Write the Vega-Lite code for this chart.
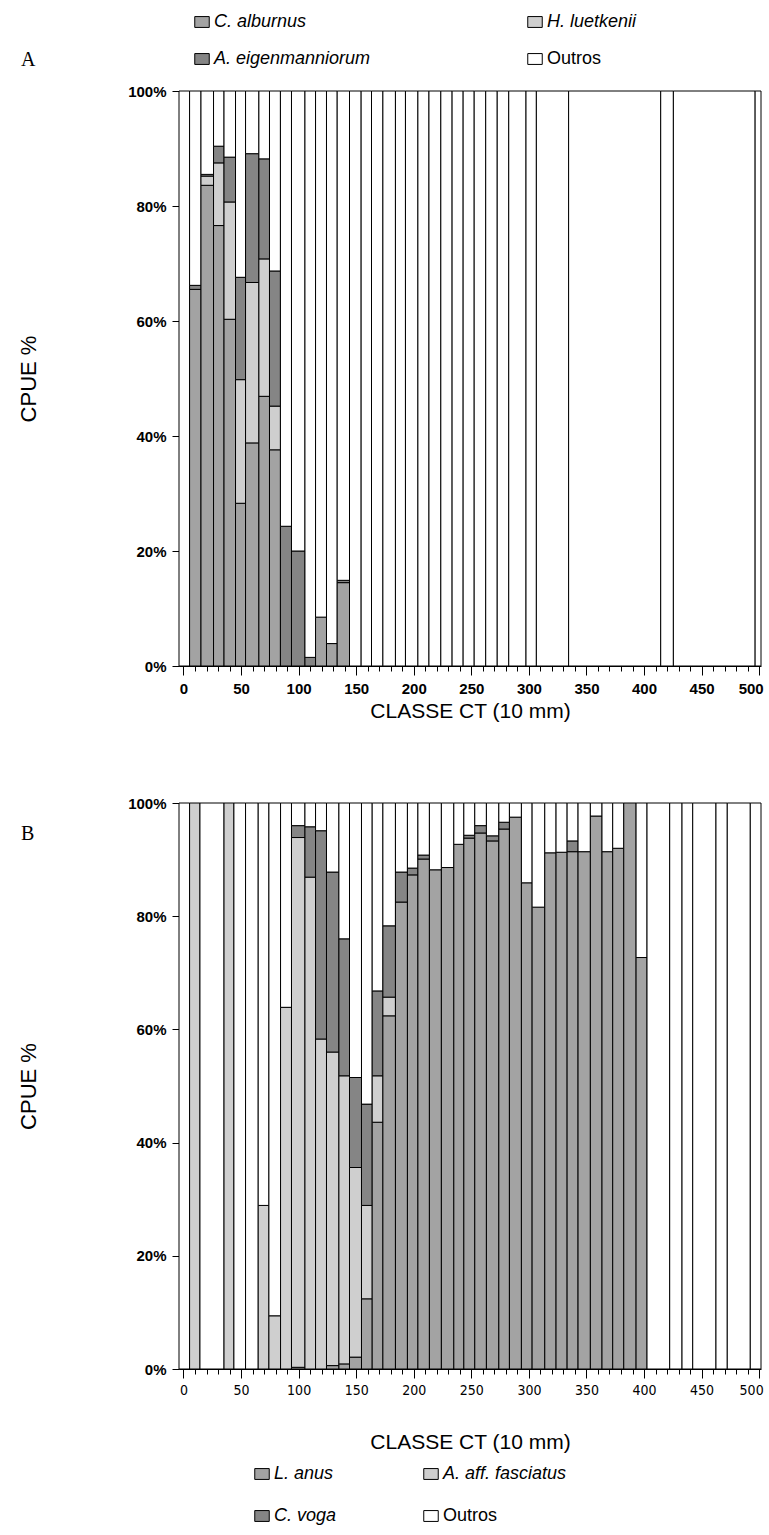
{
  "$schema": "https://vega.github.io/schema/vega-lite/v6.json",
  "padding": {"left": 17, "top": 13, "right": 0, "bottom": 0},
  "background": "white",
  "config": {
    "view": {"stroke": null},
    "axis": {"domainColor": "black", "tickColor": "black", "labelColor": "black", "titleColor": "black", "grid": false, "labelFont": "Liberation Sans", "titleFont": "Liberation Sans", "titleFontWeight": "normal"}
  },
  "datasets": {
    "A": [
      {"x0": -3.9, "x1": 5.3, "sp": "Outros", "ord": 4, "v": 100},
      {"x0": 5.3, "x1": 15.2, "sp": "C. alburnus", "ord": 1, "v": 65.5},
      {"x0": 5.3, "x1": 15.2, "sp": "A. eigenmanniorum", "ord": 3, "v": 0.7},
      {"x0": 5.3, "x1": 15.2, "sp": "Outros", "ord": 4, "v": 33.8},
      {"x0": 15.2, "x1": 26.1, "sp": "C. alburnus", "ord": 1, "v": 83.6},
      {"x0": 15.2, "x1": 26.1, "sp": "H. luetkenii", "ord": 2, "v": 1.6},
      {"x0": 15.2, "x1": 26.1, "sp": "A. eigenmanniorum", "ord": 3, "v": 0.3},
      {"x0": 15.2, "x1": 26.1, "sp": "Outros", "ord": 4, "v": 14.5},
      {"x0": 26.1, "x1": 35.2, "sp": "C. alburnus", "ord": 1, "v": 76.6},
      {"x0": 26.1, "x1": 35.2, "sp": "H. luetkenii", "ord": 2, "v": 10.9},
      {"x0": 26.1, "x1": 35.2, "sp": "A. eigenmanniorum", "ord": 3, "v": 2.9},
      {"x0": 26.1, "x1": 35.2, "sp": "Outros", "ord": 4, "v": 9.6},
      {"x0": 35.2, "x1": 45.2, "sp": "C. alburnus", "ord": 1, "v": 60.3},
      {"x0": 35.2, "x1": 45.2, "sp": "H. luetkenii", "ord": 2, "v": 20.4},
      {"x0": 35.2, "x1": 45.2, "sp": "A. eigenmanniorum", "ord": 3, "v": 7.8},
      {"x0": 35.2, "x1": 45.2, "sp": "Outros", "ord": 4, "v": 11.5},
      {"x0": 45.2, "x1": 53.9, "sp": "C. alburnus", "ord": 1, "v": 28.3},
      {"x0": 45.2, "x1": 53.9, "sp": "H. luetkenii", "ord": 2, "v": 21.5},
      {"x0": 45.2, "x1": 53.9, "sp": "A. eigenmanniorum", "ord": 3, "v": 17.8},
      {"x0": 45.2, "x1": 53.9, "sp": "Outros", "ord": 4, "v": 32.4},
      {"x0": 53.9, "x1": 65.5, "sp": "C. alburnus", "ord": 1, "v": 38.8},
      {"x0": 53.9, "x1": 65.5, "sp": "H. luetkenii", "ord": 2, "v": 27.9},
      {"x0": 53.9, "x1": 65.5, "sp": "A. eigenmanniorum", "ord": 3, "v": 22.4},
      {"x0": 53.9, "x1": 65.5, "sp": "Outros", "ord": 4, "v": 10.9},
      {"x0": 65.5, "x1": 74.7, "sp": "C. alburnus", "ord": 1, "v": 46.9},
      {"x0": 65.5, "x1": 74.7, "sp": "H. luetkenii", "ord": 2, "v": 23.9},
      {"x0": 65.5, "x1": 74.7, "sp": "A. eigenmanniorum", "ord": 3, "v": 17.4},
      {"x0": 65.5, "x1": 74.7, "sp": "Outros", "ord": 4, "v": 11.8},
      {"x0": 74.7, "x1": 84.2, "sp": "C. alburnus", "ord": 1, "v": 37.6},
      {"x0": 74.7, "x1": 84.2, "sp": "H. luetkenii", "ord": 2, "v": 7.6},
      {"x0": 74.7, "x1": 84.2, "sp": "A. eigenmanniorum", "ord": 3, "v": 23.5},
      {"x0": 74.7, "x1": 84.2, "sp": "Outros", "ord": 4, "v": 31.3},
      {"x0": 84.2, "x1": 93.8, "sp": "A. eigenmanniorum", "ord": 3, "v": 24.3},
      {"x0": 84.2, "x1": 93.8, "sp": "Outros", "ord": 4, "v": 75.7},
      {"x0": 93.8, "x1": 105.5, "sp": "A. eigenmanniorum", "ord": 3, "v": 20.0},
      {"x0": 93.8, "x1": 105.5, "sp": "Outros", "ord": 4, "v": 80.0},
      {"x0": 105.5, "x1": 114.7, "sp": "A. eigenmanniorum", "ord": 3, "v": 1.5},
      {"x0": 105.5, "x1": 114.7, "sp": "Outros", "ord": 4, "v": 98.5},
      {"x0": 114.7, "x1": 124.2, "sp": "C. alburnus", "ord": 1, "v": 8.5},
      {"x0": 114.7, "x1": 124.2, "sp": "Outros", "ord": 4, "v": 91.5},
      {"x0": 124.2, "x1": 133.5, "sp": "C. alburnus", "ord": 1, "v": 3.9},
      {"x0": 124.2, "x1": 133.5, "sp": "Outros", "ord": 4, "v": 96.1},
      {"x0": 133.5, "x1": 144.2, "sp": "C. alburnus", "ord": 1, "v": 14.5},
      {"x0": 133.5, "x1": 144.2, "sp": "A. eigenmanniorum", "ord": 3, "v": 0.4},
      {"x0": 133.5, "x1": 144.2, "sp": "Outros", "ord": 4, "v": 85.1},
      {"x0": 144.2, "x1": 154.3, "sp": "Outros", "ord": 4, "v": 100},
      {"x0": 154.3, "x1": 163.3, "sp": "Outros", "ord": 4, "v": 100},
      {"x0": 163.3, "x1": 173.2, "sp": "Outros", "ord": 4, "v": 100},
      {"x0": 173.2, "x1": 184.1, "sp": "Outros", "ord": 4, "v": 100},
      {"x0": 184.1, "x1": 192.8, "sp": "Outros", "ord": 4, "v": 100},
      {"x0": 192.8, "x1": 203.6, "sp": "Outros", "ord": 4, "v": 100},
      {"x0": 203.6, "x1": 213.2, "sp": "Outros", "ord": 4, "v": 100},
      {"x0": 213.2, "x1": 223.5, "sp": "Outros", "ord": 4, "v": 100},
      {"x0": 223.5, "x1": 233.3, "sp": "Outros", "ord": 4, "v": 100},
      {"x0": 233.3, "x1": 242.9, "sp": "Outros", "ord": 4, "v": 100},
      {"x0": 242.9, "x1": 252.5, "sp": "Outros", "ord": 4, "v": 100},
      {"x0": 252.5, "x1": 262.5, "sp": "Outros", "ord": 4, "v": 100},
      {"x0": 262.5, "x1": 272.5, "sp": "Outros", "ord": 4, "v": 100},
      {"x0": 272.5, "x1": 282.5, "sp": "Outros", "ord": 4, "v": 100},
      {"x0": 282.5, "x1": 297.5, "sp": "Outros", "ord": 4, "v": 100},
      {"x0": 297.5, "x1": 306.5, "sp": "Outros", "ord": 4, "v": 100},
      {"x0": 306.5, "x1": 334.5, "sp": "Outros", "ord": 4, "v": 100},
      {"x0": 334.5, "x1": 414.5, "sp": "Outros", "ord": 4, "v": 100},
      {"x0": 414.5, "x1": 425.5, "sp": "Outros", "ord": 4, "v": 100},
      {"x0": 425.5, "x1": 496.5, "sp": "Outros", "ord": 4, "v": 100},
      {"x0": 496.5, "x1": 501.6, "sp": "Outros", "ord": 4, "v": 100}
    ],
    "B": [
      {"x0": -3.9, "x1": 5.3, "sp": "Outros", "ord": 4, "v": 100},
      {"x0": 5.3, "x1": 14.3, "sp": "A. aff. fasciatus", "ord": 2, "v": 100},
      {"x0": 14.3, "x1": 35.2, "sp": "Outros", "ord": 4, "v": 100},
      {"x0": 35.2, "x1": 43.8, "sp": "A. aff. fasciatus", "ord": 2, "v": 100},
      {"x0": 43.8, "x1": 53.9, "sp": "Outros", "ord": 4, "v": 100},
      {"x0": 53.9, "x1": 64.9, "sp": "Outros", "ord": 4, "v": 100},
      {"x0": 64.9, "x1": 74.2, "sp": "A. aff. fasciatus", "ord": 2, "v": 28.9},
      {"x0": 64.9, "x1": 74.2, "sp": "Outros", "ord": 4, "v": 71.1},
      {"x0": 74.2, "x1": 84.3, "sp": "A. aff. fasciatus", "ord": 2, "v": 9.4},
      {"x0": 74.2, "x1": 84.3, "sp": "Outros", "ord": 4, "v": 90.6},
      {"x0": 84.3, "x1": 93.8, "sp": "A. aff. fasciatus", "ord": 2, "v": 63.9},
      {"x0": 84.3, "x1": 93.8, "sp": "Outros", "ord": 4, "v": 36.1},
      {"x0": 93.8, "x1": 105.5, "sp": "L. anus", "ord": 1, "v": 0.3},
      {"x0": 93.8, "x1": 105.5, "sp": "A. aff. fasciatus", "ord": 2, "v": 93.6},
      {"x0": 93.8, "x1": 105.5, "sp": "C. voga", "ord": 3, "v": 2.1},
      {"x0": 93.8, "x1": 105.5, "sp": "Outros", "ord": 4, "v": 4.0},
      {"x0": 105.5, "x1": 114.7, "sp": "A. aff. fasciatus", "ord": 2, "v": 86.9},
      {"x0": 105.5, "x1": 114.7, "sp": "C. voga", "ord": 3, "v": 8.9},
      {"x0": 105.5, "x1": 114.7, "sp": "Outros", "ord": 4, "v": 4.2},
      {"x0": 114.7, "x1": 124.2, "sp": "A. aff. fasciatus", "ord": 2, "v": 58.3},
      {"x0": 114.7, "x1": 124.2, "sp": "C. voga", "ord": 3, "v": 36.8},
      {"x0": 114.7, "x1": 124.2, "sp": "Outros", "ord": 4, "v": 4.9},
      {"x0": 124.2, "x1": 135.0, "sp": "L. anus", "ord": 1, "v": 0.6},
      {"x0": 124.2, "x1": 135.0, "sp": "A. aff. fasciatus", "ord": 2, "v": 55.4},
      {"x0": 124.2, "x1": 135.0, "sp": "C. voga", "ord": 3, "v": 31.8},
      {"x0": 124.2, "x1": 135.0, "sp": "Outros", "ord": 4, "v": 12.2},
      {"x0": 135.0, "x1": 144.2, "sp": "L. anus", "ord": 1, "v": 0.9},
      {"x0": 135.0, "x1": 144.2, "sp": "A. aff. fasciatus", "ord": 2, "v": 50.9},
      {"x0": 135.0, "x1": 144.2, "sp": "C. voga", "ord": 3, "v": 24.2},
      {"x0": 135.0, "x1": 144.2, "sp": "Outros", "ord": 4, "v": 24.0},
      {"x0": 144.2, "x1": 154.6, "sp": "L. anus", "ord": 1, "v": 2.1},
      {"x0": 144.2, "x1": 154.6, "sp": "A. aff. fasciatus", "ord": 2, "v": 33.5},
      {"x0": 144.2, "x1": 154.6, "sp": "C. voga", "ord": 3, "v": 15.9},
      {"x0": 144.2, "x1": 154.6, "sp": "Outros", "ord": 4, "v": 48.5},
      {"x0": 154.6, "x1": 163.9, "sp": "L. anus", "ord": 1, "v": 12.4},
      {"x0": 154.6, "x1": 163.9, "sp": "A. aff. fasciatus", "ord": 2, "v": 16.5},
      {"x0": 154.6, "x1": 163.9, "sp": "C. voga", "ord": 3, "v": 17.9},
      {"x0": 154.6, "x1": 163.9, "sp": "Outros", "ord": 4, "v": 53.2},
      {"x0": 163.9, "x1": 173.2, "sp": "L. anus", "ord": 1, "v": 43.6},
      {"x0": 163.9, "x1": 173.2, "sp": "A. aff. fasciatus", "ord": 2, "v": 8.2},
      {"x0": 163.9, "x1": 173.2, "sp": "C. voga", "ord": 3, "v": 15.0},
      {"x0": 163.9, "x1": 173.2, "sp": "Outros", "ord": 4, "v": 33.2},
      {"x0": 173.2, "x1": 184.1, "sp": "L. anus", "ord": 1, "v": 62.4},
      {"x0": 173.2, "x1": 184.1, "sp": "A. aff. fasciatus", "ord": 2, "v": 3.3},
      {"x0": 173.2, "x1": 184.1, "sp": "C. voga", "ord": 3, "v": 12.6},
      {"x0": 173.2, "x1": 184.1, "sp": "Outros", "ord": 4, "v": 21.7},
      {"x0": 184.1, "x1": 194.5, "sp": "L. anus", "ord": 1, "v": 82.5},
      {"x0": 184.1, "x1": 194.5, "sp": "C. voga", "ord": 3, "v": 5.3},
      {"x0": 184.1, "x1": 194.5, "sp": "Outros", "ord": 4, "v": 12.2},
      {"x0": 194.5, "x1": 203.6, "sp": "L. anus", "ord": 1, "v": 87.3},
      {"x0": 194.5, "x1": 203.6, "sp": "C. voga", "ord": 3, "v": 1.2},
      {"x0": 194.5, "x1": 203.6, "sp": "Outros", "ord": 4, "v": 11.5},
      {"x0": 203.6, "x1": 213.6, "sp": "L. anus", "ord": 1, "v": 90.1},
      {"x0": 203.6, "x1": 213.6, "sp": "C. voga", "ord": 3, "v": 0.7},
      {"x0": 203.6, "x1": 213.6, "sp": "Outros", "ord": 4, "v": 9.2},
      {"x0": 213.6, "x1": 224.0, "sp": "L. anus", "ord": 1, "v": 88.2},
      {"x0": 213.6, "x1": 224.0, "sp": "Outros", "ord": 4, "v": 11.8},
      {"x0": 224.0, "x1": 234.8, "sp": "L. anus", "ord": 1, "v": 88.6},
      {"x0": 224.0, "x1": 234.8, "sp": "Outros", "ord": 4, "v": 11.4},
      {"x0": 234.8, "x1": 243.5, "sp": "L. anus", "ord": 1, "v": 92.7},
      {"x0": 234.8, "x1": 243.5, "sp": "Outros", "ord": 4, "v": 7.3},
      {"x0": 243.5, "x1": 253.0, "sp": "L. anus", "ord": 1, "v": 93.8},
      {"x0": 243.5, "x1": 253.0, "sp": "C. voga", "ord": 3, "v": 0.5},
      {"x0": 243.5, "x1": 253.0, "sp": "Outros", "ord": 4, "v": 5.7},
      {"x0": 253.0, "x1": 263.1, "sp": "L. anus", "ord": 1, "v": 94.7},
      {"x0": 253.0, "x1": 263.1, "sp": "C. voga", "ord": 3, "v": 1.3},
      {"x0": 253.0, "x1": 263.1, "sp": "Outros", "ord": 4, "v": 4.0},
      {"x0": 263.1, "x1": 273.9, "sp": "L. anus", "ord": 1, "v": 93.3},
      {"x0": 263.1, "x1": 273.9, "sp": "C. voga", "ord": 3, "v": 0.9},
      {"x0": 263.1, "x1": 273.9, "sp": "Outros", "ord": 4, "v": 5.8},
      {"x0": 273.9, "x1": 283.1, "sp": "L. anus", "ord": 1, "v": 95.4},
      {"x0": 273.9, "x1": 283.1, "sp": "C. voga", "ord": 3, "v": 1.2},
      {"x0": 273.9, "x1": 283.1, "sp": "Outros", "ord": 4, "v": 3.4},
      {"x0": 283.1, "x1": 293.5, "sp": "L. anus", "ord": 1, "v": 97.5},
      {"x0": 283.1, "x1": 293.5, "sp": "Outros", "ord": 4, "v": 2.5},
      {"x0": 293.5, "x1": 302.8, "sp": "L. anus", "ord": 1, "v": 85.9},
      {"x0": 293.5, "x1": 302.8, "sp": "Outros", "ord": 4, "v": 14.1},
      {"x0": 302.8, "x1": 313.8, "sp": "L. anus", "ord": 1, "v": 81.6},
      {"x0": 302.8, "x1": 313.8, "sp": "Outros", "ord": 4, "v": 18.4},
      {"x0": 313.8, "x1": 323.6, "sp": "L. anus", "ord": 1, "v": 91.2},
      {"x0": 313.8, "x1": 323.6, "sp": "Outros", "ord": 4, "v": 8.8},
      {"x0": 323.6, "x1": 333.2, "sp": "L. anus", "ord": 1, "v": 91.3},
      {"x0": 323.6, "x1": 333.2, "sp": "Outros", "ord": 4, "v": 8.7},
      {"x0": 333.2, "x1": 342.7, "sp": "L. anus", "ord": 1, "v": 91.4},
      {"x0": 333.2, "x1": 342.7, "sp": "C. voga", "ord": 3, "v": 1.9},
      {"x0": 333.2, "x1": 342.7, "sp": "Outros", "ord": 4, "v": 6.7},
      {"x0": 342.7, "x1": 353.4, "sp": "L. anus", "ord": 1, "v": 91.4},
      {"x0": 342.7, "x1": 353.4, "sp": "Outros", "ord": 4, "v": 8.6},
      {"x0": 353.4, "x1": 363.5, "sp": "L. anus", "ord": 1, "v": 97.7},
      {"x0": 353.4, "x1": 363.5, "sp": "Outros", "ord": 4, "v": 2.3},
      {"x0": 363.5, "x1": 372.8, "sp": "L. anus", "ord": 1, "v": 91.4},
      {"x0": 363.5, "x1": 372.8, "sp": "Outros", "ord": 4, "v": 8.6},
      {"x0": 372.8, "x1": 382.4, "sp": "L. anus", "ord": 1, "v": 92.0},
      {"x0": 372.8, "x1": 382.4, "sp": "Outros", "ord": 4, "v": 8.0},
      {"x0": 382.4, "x1": 393.1, "sp": "L. anus", "ord": 1, "v": 100},
      {"x0": 393.1, "x1": 402.6, "sp": "L. anus", "ord": 1, "v": 72.7},
      {"x0": 393.1, "x1": 402.6, "sp": "Outros", "ord": 4, "v": 27.3},
      {"x0": 402.6, "x1": 422.3, "sp": "Outros", "ord": 4, "v": 100},
      {"x0": 422.3, "x1": 433.0, "sp": "Outros", "ord": 4, "v": 100},
      {"x0": 433.0, "x1": 442.3, "sp": "Outros", "ord": 4, "v": 100},
      {"x0": 442.3, "x1": 462.5, "sp": "Outros", "ord": 4, "v": 100},
      {"x0": 462.5, "x1": 472.3, "sp": "Outros", "ord": 4, "v": 100},
      {"x0": 472.3, "x1": 492.3, "sp": "Outros", "ord": 4, "v": 100},
      {"x0": 492.3, "x1": 501.6, "sp": "Outros", "ord": 4, "v": 100}
    ]
  },
  "resolve": {"scale": {"color": "independent", "x": "independent", "y": "independent"}, "legend": {"color": "independent"}},
  "spacing": 75,
  "vconcat": [
    {
      "width": 582, "height": 575,
      "title": {"text": "A", "font": "Liberation Serif", "fontSize": 20, "fontWeight": "normal", "anchor": "start", "frame": "group", "dx": -158, "offset": -57, "color": "black"},
      "data": {"name": "A"},
      "transform": [{"stack": "v", "groupby": ["x0"], "sort": [{"field": "ord"}], "offset": "normalize", "as": ["y0", "y1"]}],
      "mark": {"type": "bar", "stroke": "black", "strokeWidth": 1},
      "encoding": {
        "x": {"field": "x0", "type": "quantitative", "scale": {"domain": [-3.9, 501.6], "nice": false, "zero": false},
          "axis": {"values": [0,10,20,30,40,50,60,70,80,90,100,110,120,130,140,150,160,170,180,190,200,210,220,230,240,250,260,270,280,290,300,310,320,330,340,350,360,370,380,390,400,410,420,430,440,450,460,470,480,490,500],
            "labelExpr": "datum.value % 50 === 0 ? datum.label : ''", "format": "d",
            "tickSize": {"condition": {"test": "datum.value % 50 === 0", "value": 9}, "value": 5},
            "labelFontSize": 15, "labelFontWeight": "bold", "labelPadding": 6, "labelOverlap": false, "labelFlush": 3, "labelFlushOffset": 4,
            "title": "CLASSE CT (10 mm)", "titleFontSize": 21, "titlePadding": 4}},
        "x2": {"field": "x1"},
        "y": {"field": "y0", "type": "quantitative", "scale": {"domain": [0, 1], "nice": false},
          "axis": {"values": [0, 0.2, 0.4, 0.6, 0.8, 1], "format": ".0%", "tickSize": 7, "labelPadding": 6, "labelFontSize": 15, "labelFontWeight": "bold", "title": "CPUE %", "titleFontSize": 22, "titlePadding": 87}},
        "y2": {"field": "y1"},
        "color": {"field": "sp", "type": "nominal",
          "scale": {"domain": ["C. alburnus", "H. luetkenii", "A. eigenmanniorum", "Outros"], "range": ["#a3a3a3", "#cfcfcf", "#858585", "#ffffff"]},
          "legend": {"orient": "none", "legendX": 14, "legendY": -78, "direction": "horizontal", "columns": 2, "title": null, "gridAlign": "each",
            "symbolType": "M-1,-0.75H1V0.75H-1Z", "symbolSize": 210, "symbolStrokeColor": "black", "symbolStrokeWidth": 1, "symbolOpacity": 1,
            "labelFont": "Liberation Sans", "labelFontSize": 18, "labelColor": "black", "labelFontStyle": {"expr": "datum.label == 'Outros' ? 'normal' : 'italic'"},
            "labelOffset": 3, "columnPadding": 154, "rowPadding": 19}}
      }
    },
    {
      "width": 582, "height": 566,
      "title": {"text": "B", "font": "Liberation Serif", "fontSize": 20, "fontWeight": "normal", "anchor": "start", "frame": "group", "dx": -158, "offset": -48, "color": "black"},
      "data": {"name": "B"},
      "transform": [{"stack": "v", "groupby": ["x0"], "sort": [{"field": "ord"}], "offset": "normalize", "as": ["y0", "y1"]}],
      "mark": {"type": "bar", "stroke": "black", "strokeWidth": 1},
      "encoding": {
        "x": {"field": "x0", "type": "quantitative", "scale": {"domain": [-3.9, 501.6], "nice": false, "zero": false},
          "axis": {"values": [0,10,20,30,40,50,60,70,80,90,100,110,120,130,140,150,160,170,180,190,200,210,220,230,240,250,260,270,280,290,300,310,320,330,340,350,360,370,380,390,400,410,420,430,440,450,460,470,480,490,500],
            "labelExpr": "datum.value % 50 === 0 ? datum.label : ''", "format": "d",
            "tickSize": {"condition": {"test": "datum.value % 50 === 0", "value": 9}, "value": 5},
            "labelFont": "DejaVu Sans Condensed, Liberation Sans, sans-serif", "labelFontSize": 14, "labelPadding": 5, "labelOverlap": false, "labelFlush": 3, "labelFlushOffset": 4,
            "title": "CLASSE CT (10 mm)", "titleFontSize": 21, "titlePadding": 34}},
        "x2": {"field": "x1"},
        "y": {"field": "y0", "type": "quantitative", "scale": {"domain": [0, 1], "nice": false},
          "axis": {"values": [0, 0.2, 0.4, 0.6, 0.8, 1], "format": ".0%", "tickSize": 7, "labelPadding": 6, "labelFontSize": 15, "labelFontWeight": "bold", "title": "CPUE %", "titleFontSize": 22, "titlePadding": 87}},
        "y2": {"field": "y1"},
        "color": {"field": "sp", "type": "nominal",
          "scale": {"domain": ["L. anus", "A. aff. fasciatus", "C. voga", "Outros"], "range": ["#a3a3a3", "#cfcfcf", "#858585", "#ffffff"]},
          "legend": {"orient": "none", "legendX": 74, "legendY": 662, "direction": "horizontal", "columns": 2, "title": null, "gridAlign": "each",
            "symbolType": "M-1,-0.75H1V0.75H-1Z", "symbolSize": 210, "symbolStrokeColor": "black", "symbolStrokeWidth": 1, "symbolOpacity": 1,
            "labelFont": "Liberation Sans", "labelFontSize": 18, "labelColor": "black", "labelFontStyle": {"expr": "datum.label == 'Outros' ? 'normal' : 'italic'"},
            "labelOffset": 3, "columnPadding": 84, "rowPadding": 24}}
      }
    }
  ]
}
